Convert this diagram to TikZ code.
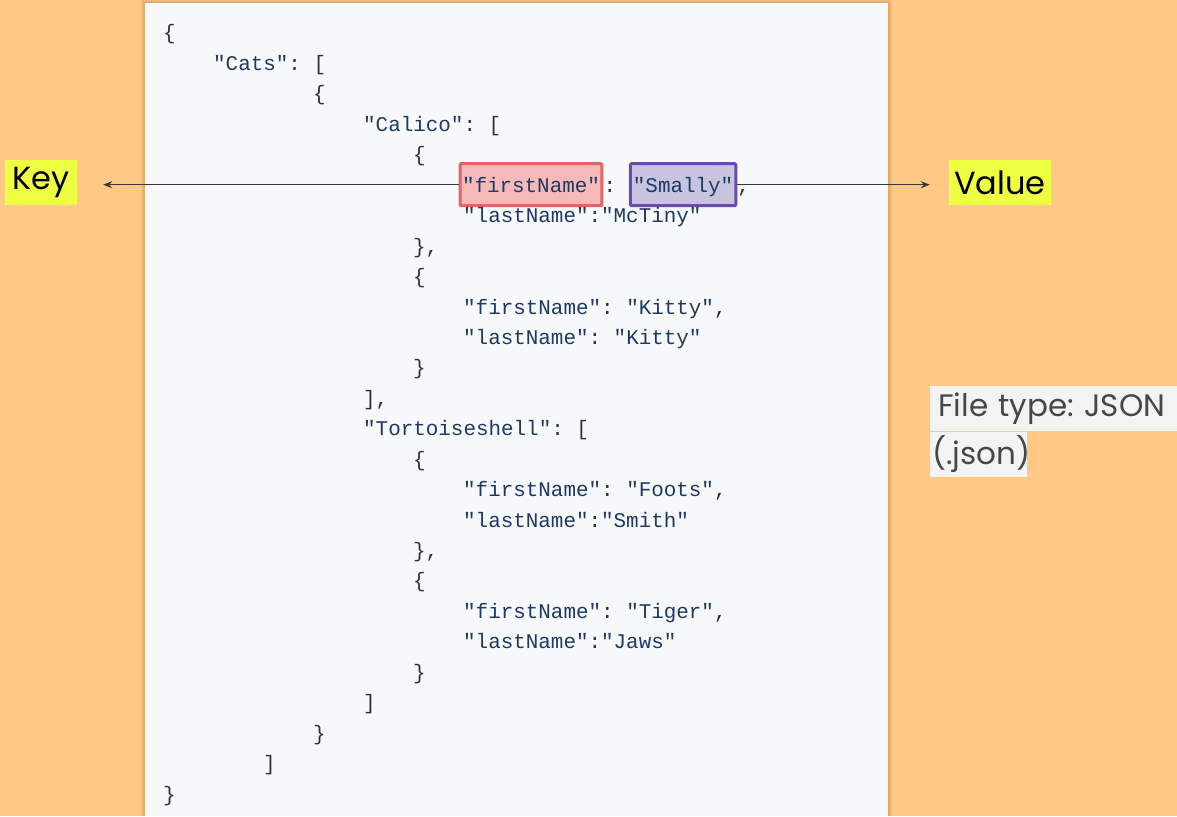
\documentclass[tikz,border=0pt]{standalone}
\usepackage{fontspec}
\setmonofont{Liberation Mono}
\newfontfamily\labelfont{Poppins}
\usetikzlibrary{arrows.meta,positioning}
\definecolor{paper}{HTML}{FFC884}
\definecolor{panel}{HTML}{F7F8FA}
\definecolor{jstr}{HTML}{1E3A64}
\definecolor{jpunct}{HTML}{333333}
\definecolor{hilite}{HTML}{EEFF41}
\definecolor{keyfill}{HTML}{F5B9B9}
\definecolor{keyline}{HTML}{E06666}
\definecolor{valfill}{HTML}{C8C3DE}
\definecolor{valline}{HTML}{6A4BAC}
\definecolor{note}{HTML}{F3F3F3}
\newcommand{\js}[1]{{\color{jstr}"#1"}}

\begin{document}
\begin{tikzpicture}[x=1pt,y=-1pt,
  code/.style={anchor=base west,inner sep=0pt,text=jpunct,font=\ttfamily\fontsize{20.9}{25}\selectfont},
  hbox/.style={code,inner xsep=2pt,inner ysep=13.5pt,text height=15pt,text depth=0pt,line width=3pt,rounded corners=1pt},
  lbl/.style={fill=hilite,inner sep=0pt,minimum height=45pt,font=\labelfont\fontsize{32}{36}\selectfont},
  ftype/.style={fill=note,anchor=north west,inner ysep=0pt,minimum height=45pt,align=left,text=black!72,font=\labelfont\fontsize{31}{34}\selectfont},
  arr/.style={draw=black!78,line width=1.3pt,-{Stealth[length=9pt,width=7pt]}}]
  \useasboundingbox (0,0) rectangle (1177,816);
  \fill[paper] (0,0) rectangle (1177,816);

  % code panel with soft shadow
  \fill[black,opacity=0.06] (141,0) rectangle (892,816);
  \fill[black,opacity=0.08] (143,1) rectangle (890,816);
  \fill[panel] (145,3) rectangle (888,816);

  % JSON lines
  \node[code] (l1) at (163,40) {\{};
  \node[code] (l2) at (213,70.4) {\js{Cats}: [};
  \node[code] (l3) at (313,100.9) {\{};
  \node[code] (l4) at (363,131.3) {\js{Calico}: [};
  \node[code] (l5) at (413,161.8) {\{};
  \node[hbox,fill=keyfill,draw=keyline] (kbox) at (458.5,192.2) {\js{firstName}};
  \node[code] (colon) at (kbox.base east) {:\hphantom{a}};
  \node[hbox,fill=valfill,draw=valline,inner xsep=2.5pt] (vbox) at (colon.base east) {\js{Smally}};
  \node[code] (comma) at (vbox.base east) {,};
  \node[code] (l7) at (463,222.6) {\js{lastName}:\js{McTiny}};
  \node[code] (l8) at (413,253.1) {\},};
  \node[code] (l9) at (413,283.5) {\{};
  \node[code] (l10) at (463,314.0) {\js{firstName}: \js{Kitty},};
  \node[code] (l11) at (463,344.4) {\js{lastName}: \js{Kitty}};
  \node[code] (l12) at (413,374.8) {\}};
  \node[code] (l13) at (363,405.3) {],};
  \node[code] (l14) at (363,435.7) {\js{Tortoiseshell}: [};
  \node[code] (l15) at (413,466.2) {\{};
  \node[code] (l16) at (463,496.6) {\js{firstName}: \js{Foots},};
  \node[code] (l17) at (463,527.0) {\js{lastName}:\js{Smith}};
  \node[code] (l18) at (413,557.5) {\},};
  \node[code] (l19) at (413,587.9) {\{};
  \node[code] (l20) at (463,618.4) {\js{firstName}: \js{Tiger},};
  \node[code] (l21) at (463,648.8) {\js{lastName}:\js{Jaws}};
  \node[code] (l22) at (413,679.2) {\}};
  \node[code] (l23) at (363,709.7) {]};
  \node[code] (l24) at (313,740.1) {\}};
  \node[code] (l25) at (263,770.6) {]};
  \node[code] (l26) at (163,801.0) {\}};

  % labels
  \node[lbl,minimum width=72pt] (keylbl) at (41,182.5) {Key};
  \node[lbl,minimum width=102pt] (vallbl) at (1000,182.5) {Value};
  \draw[arr,shorten >=26pt] (kbox.west) -- (keylbl.east |- kbox.west);
  \draw[arr,shorten >=19pt] (vbox.east) -- (vallbl.west |- vbox.east);

  \node[ftype,inner xsep=8pt,text width=239pt] (ft1) at (930,386) {File type:\ JSON};
  \node[ftype,inner xsep=2pt,text width=93pt] (ft2) at (ft1.south west) {(.json)};
\end{tikzpicture}
\end{document}
